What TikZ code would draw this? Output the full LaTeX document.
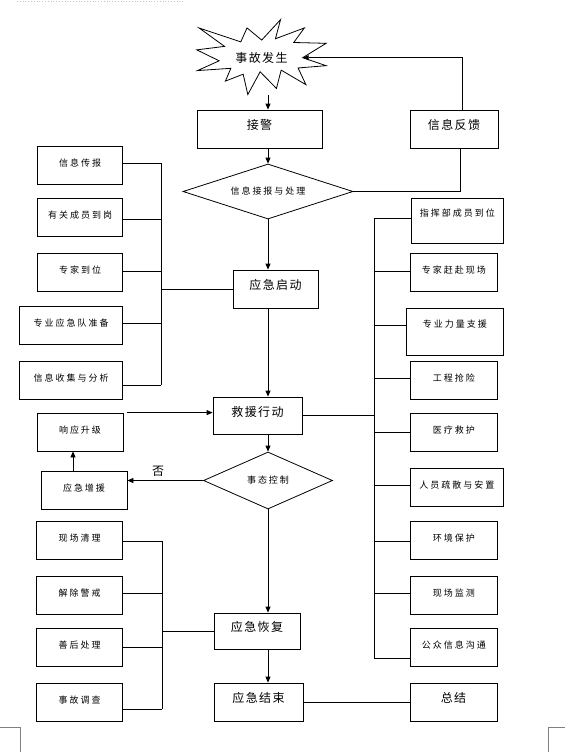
\documentclass[tikz,border=0pt]{standalone}
\usepackage{fontspec}
\setmainfont{Noto Sans CJK SC}
\newfontfamily\bigfont[LetterSpace=12]{Noto Sans CJK SC}
\newfontfamily\smallfont[LetterSpace=22]{Noto Sans CJK SC}
\newcommand\bigtext{\bigfont\fontsize{12pt}{14pt}\selectfont}
\newcommand\smalltext{\smallfont\fontsize{9pt}{11pt}\selectfont}
\usetikzlibrary{shapes.geometric, arrows.meta}

\begin{document}
\begin{tikzpicture}[x=1pt, y=-1pt, line width=.8pt,
		bigbox/.style={draw, inner sep=0pt, font=\bigtext, text height=11pt, text depth=10pt},
		smallbox/.style={draw, inner sep=0pt, font=\smalltext, minimum height=38pt, text height=8pt, text depth=6pt},
		decision/.style={diamond, aspect=3, draw, inner sep=0pt, font=\smalltext},
		arr/.style={-{Triangle[length=6pt, width=5pt]}}]
		\useasboundingbox (0,0) rectangle (565,752);
		\def\prepare{85/165/163/信息传报, 85/217/219/有关成员到岗, 85/272/271/专家到位,
			103/325/323/专业应急队准备, 103/380/385/信息收集与分析}
		\def\actions{411/220.5/92/45/16/218/指挥部成员到位, 410/272/87/38/6/271/专家赶赴现场,
			406/331.5/97/47/16/325/专业力量支援, 410/380/87/38/6/378/工程抢险,
			410/432/87/38/6/432/医疗救护, 410/487/93/38/6/485/人员疏散与安置,
			410/540/87/38/6/541/环境保护, 410/595/87/38/6/593/现场监测,
			410/647/87/38/6/658/公众信息沟通}
		\def\aftermath{540/541/现场清理, 595/593/解除警戒, 647/647/善后处理, 702.5/709/事故调查}
		\coordinate (spine) at (268,0);
		\coordinate (lbus) at (161,0);
		\coordinate (rbus) at (374,0);
		\coordinate (fbus) at (162,0);
		\node[inner sep=0pt, minimum width=130pt, minimum height=75pt, font=\bigtext] (accident) at (261.5,57.5) {事故发生};
		\begin{scope}[shift={(accident.north west)}, x=.0602pt, y=-.0347pt]
			\draw (1090,590) -- (846,240) -- (742,643) -- (48,240) -- (473,772) -- (11,872)
				-- (383,1188) -- (24,1469) -- (577,1404) -- (487,1772) -- (782,1573) -- (859,2160)
				-- (1064,1504) -- (1335,1984) -- (1413,1456) -- (1825,1876) -- (1694,1394)
				-- (2160,1328) -- (1771,1098) -- (2160,683) -- (1622,660) -- (1799,240)
				-- (1318,552) -- (1403,0) -- cycle;
			\coordinate (blast) at (1771,1098);
		\end{scope}
		\node[bigbox, minimum width=125pt, minimum height=38pt] (alarm) at (259.5,129) {接警};
		\node[decision, minimum width=170pt, minimum height=55pt] (report) at (268,191.5) {信息接报与处理};
		\node[bigbox, minimum width=88pt, minimum height=38pt] (feedback) at (454,129) {信息反馈};
		\node[bigbox, minimum width=85pt, minimum height=38pt] (start) at (275.5,289) {应急启动};
		\node[bigbox, minimum width=89pt, minimum height=37pt] (rescue) at (257.5,415.5) {救援行动};
		\node[decision, minimum width=129pt, minimum height=57pt] (control) at (268,480.5) {事态控制};
		\node[smallbox, minimum width=86pt] (reinforce) at (84,490) {应急增援};
		\node[smallbox, minimum width=86pt] (upgrade) at (80,432) {响应升级};
		\node[font=\bigtext] (no) at (158,471) {否};
		\node[bigbox, minimum width=86pt, minimum height=36pt] (recover) at (257,631) {应急恢复};
		\node[bigbox, minimum width=89pt, minimum height=38pt] (finish) at (258.5,702) {应急结束};
		\node[bigbox, minimum width=87pt, minimum height=38pt] (summary) at (453.5,702) {总结};
		\foreach \w/\yc/\yl/\txt [count=\i] in \prepare{
			\node[smallbox, anchor=east, minimum width=\w pt] (P\i) at (123,\yc) {\txt};
			\coordinate (p\i) at (lbus |- 0,\yl);
			\draw (P\i.east |- p\i) -- (p\i);
		}
		\foreach \xl/\yc/\w/\h/\td/\yl/\txt [count=\i] in \actions{
			\node[smallbox, anchor=west, minimum width=\w pt, minimum height=\h pt, text depth=\td pt] (R\i) at (\xl,\yc) {\txt};
			\coordinate (r\i) at (rbus |- 0,\yl);
			\draw (r\i) -- (R\i.west |- r\i);
		}
		\foreach \yc/\yl/\txt [count=\i] in \aftermath{
			\node[smallbox, anchor=east, minimum width=86pt] (F\i) at (123,\yc) {\txt};
			\coordinate (f\i) at (fbus |- 0,\yl);
			\draw (F\i.east |- f\i) -- (f\i);
		}
		\draw (p1) -- (p5);
		\draw (lbus |- start.west) -- (start.west);
		\draw (r1) -- (r9);
		\draw (rescue.east) -- (rescue.east -| rbus);
		\draw (f1) -- (f4);
		\draw (fbus |- recover.west) -- (recover.west);
		\draw[arr] (accident.south -| spine) -- (alarm.north -| spine);
		\draw[arr] (alarm.south -| spine) -- (report.north);
		\draw (report.east) -| ([xshift=6pt]feedback.south);
		\draw[arr] ([xshift=8pt]feedback.north) |- (blast);
		\draw[arr] (report.south) -- (start.north -| spine);
		\draw[arr] (start.south -| spine) -- (rescue.north -| spine);
		\draw[arr] (rescue.south -| spine) -- (control.north);
		\draw[arr] (control.west) -- (reinforce.east |- control.west);
		\coordinate (lift) at ([xshift=-11pt]reinforce.north);
		\draw[arr] (lift) -- (lift |- upgrade.south);
		\draw[arr] ([xshift=4pt]upgrade.north east) -- (rescue.west |- upgrade.north);
		\draw[arr] (control.south) -- (recover.north -| spine);
		\draw[arr] (recover.south -| spine) -- (finish.north -| spine);
		\draw (finish.east) -- (summary.west);
		\draw[gray, line width=.6pt] (0,727) -- (20,727) -- (20,752);
		\draw[gray, line width=.6pt] (565,727) -- (548,727) -- (548,752);
		\draw[blue!25, dotted] (17,1.5) -- (183,1.5);
	\end{tikzpicture}
\end{document}
